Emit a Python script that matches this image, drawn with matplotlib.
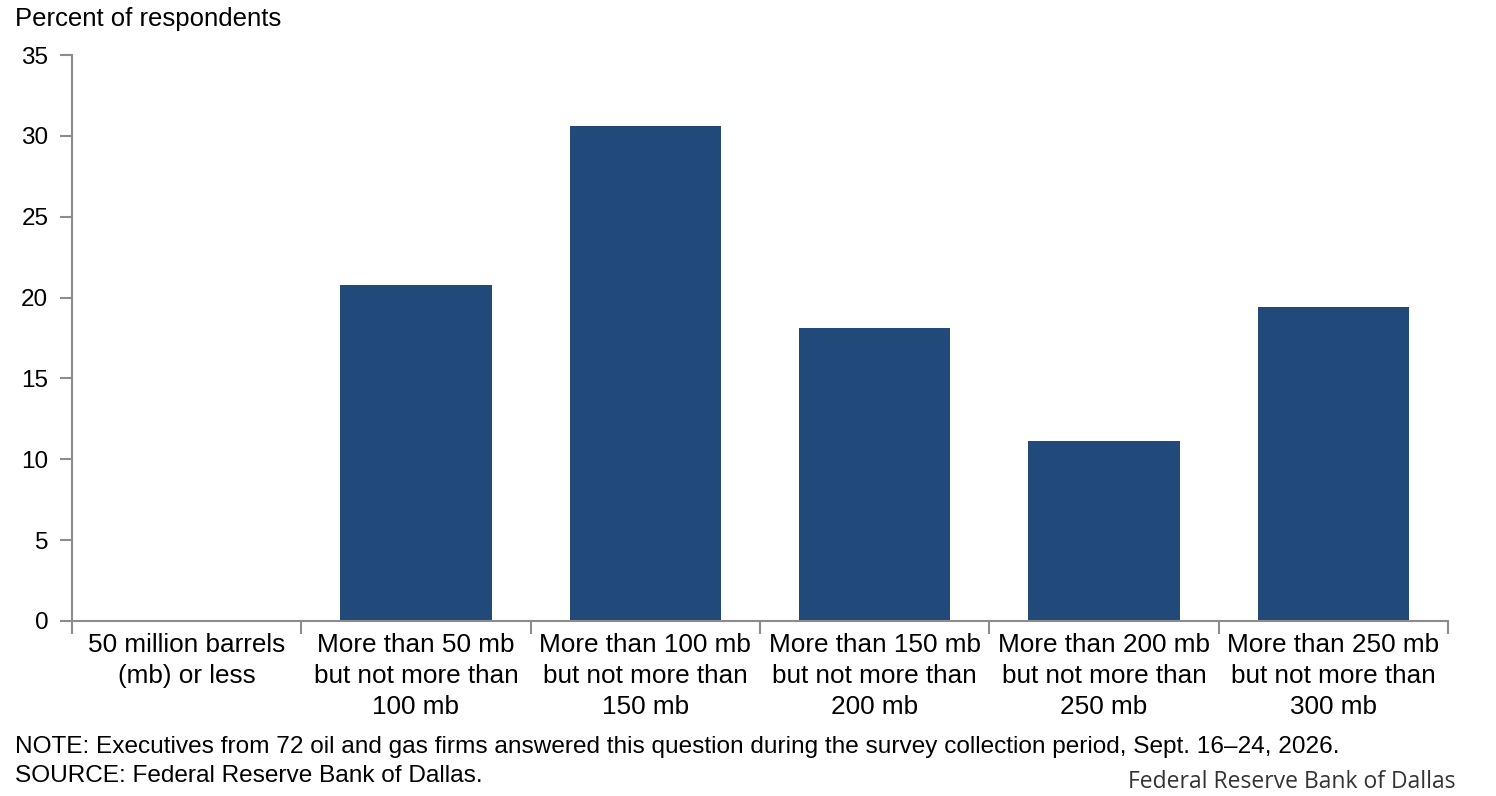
import matplotlib
matplotlib.use('Agg')
import matplotlib.pyplot as plt
import numpy as np

plt.rcParams['font.family'] = ['Liberation Sans', 'DejaVu Sans']

# data
categories = ['50 million barrels\n(mb) or less',
              'More than 50 mb\nbut not more than\n100 mb',
              'More than 100 mb\nbut not more than\n150 mb',
              'More than 150 mb\nbut not more than\n200 mb',
              'More than 200 mb\nbut not more than\n250 mb',
              'More than 250 mb\nbut not more than\n300 mb']
percent = [0.0, 20.8, 30.6, 18.1, 11.1, 19.4]
yticks = [0, 5, 10, 15, 20, 25, 30, 35]

bar_color = '#21497a'
axis_color = '#8c8c8c'

fig = plt.figure(figsize=(14.96, 7.96), dpi=100)
ax = fig.add_axes([0.0481, 0.2199, 0.9198, 0.711])

x = np.arange(len(categories))
ax.bar(x, percent, width=0.66, color=bar_color, zorder=2)

ax.set_xlim(-0.5, len(categories) - 0.5)
ax.set_ylim(0, 35)
ax.set_yticks(yticks)
ax.set_yticklabels([str(t) for t in yticks], fontsize=17.5)

# category labels at centres, tick marks at boundaries
ax.set_xticks(x)
ax.set_xticklabels(categories, fontsize=18.8, linespacing=1.36)
ax.tick_params(axis='x', which='major', length=0, pad=9)
ax.set_xticks(np.arange(len(categories) + 1) - 0.5, minor=True)
ax.tick_params(axis='x', which='minor', length=9, width=1.5, color=axis_color, direction='out')
ax.tick_params(axis='y', length=9, width=1.5, color=axis_color, pad=8)

for s in ['top', 'right']:
    ax.spines[s].set_visible(False)
for s in ['left', 'bottom']:
    ax.spines[s].set_color(axis_color)
    ax.spines[s].set_linewidth(1.5)

fig.text(0.010, 0.976, 'Percent of respondents', fontsize=18.5, va='center', ha='left')
fig.text(0.010, 0.062,
         'NOTE: Executives from 72 oil and gas firms answered this question during the survey collection period, Sept. 16\u201324, 2026.',
         fontsize=17.6, va='center', ha='left')
fig.text(0.010, 0.025, 'SOURCE: Federal Reserve Bank of Dallas.', fontsize=17.6, va='center', ha='left')
fig.text(0.973, 0.018, 'Federal Reserve Bank of Dallas', fontsize=16.5, va='center', ha='right',
         family=['Open Sans', 'DejaVu Sans'], color='#333333')

fig.savefig('out.png', dpi=100)
